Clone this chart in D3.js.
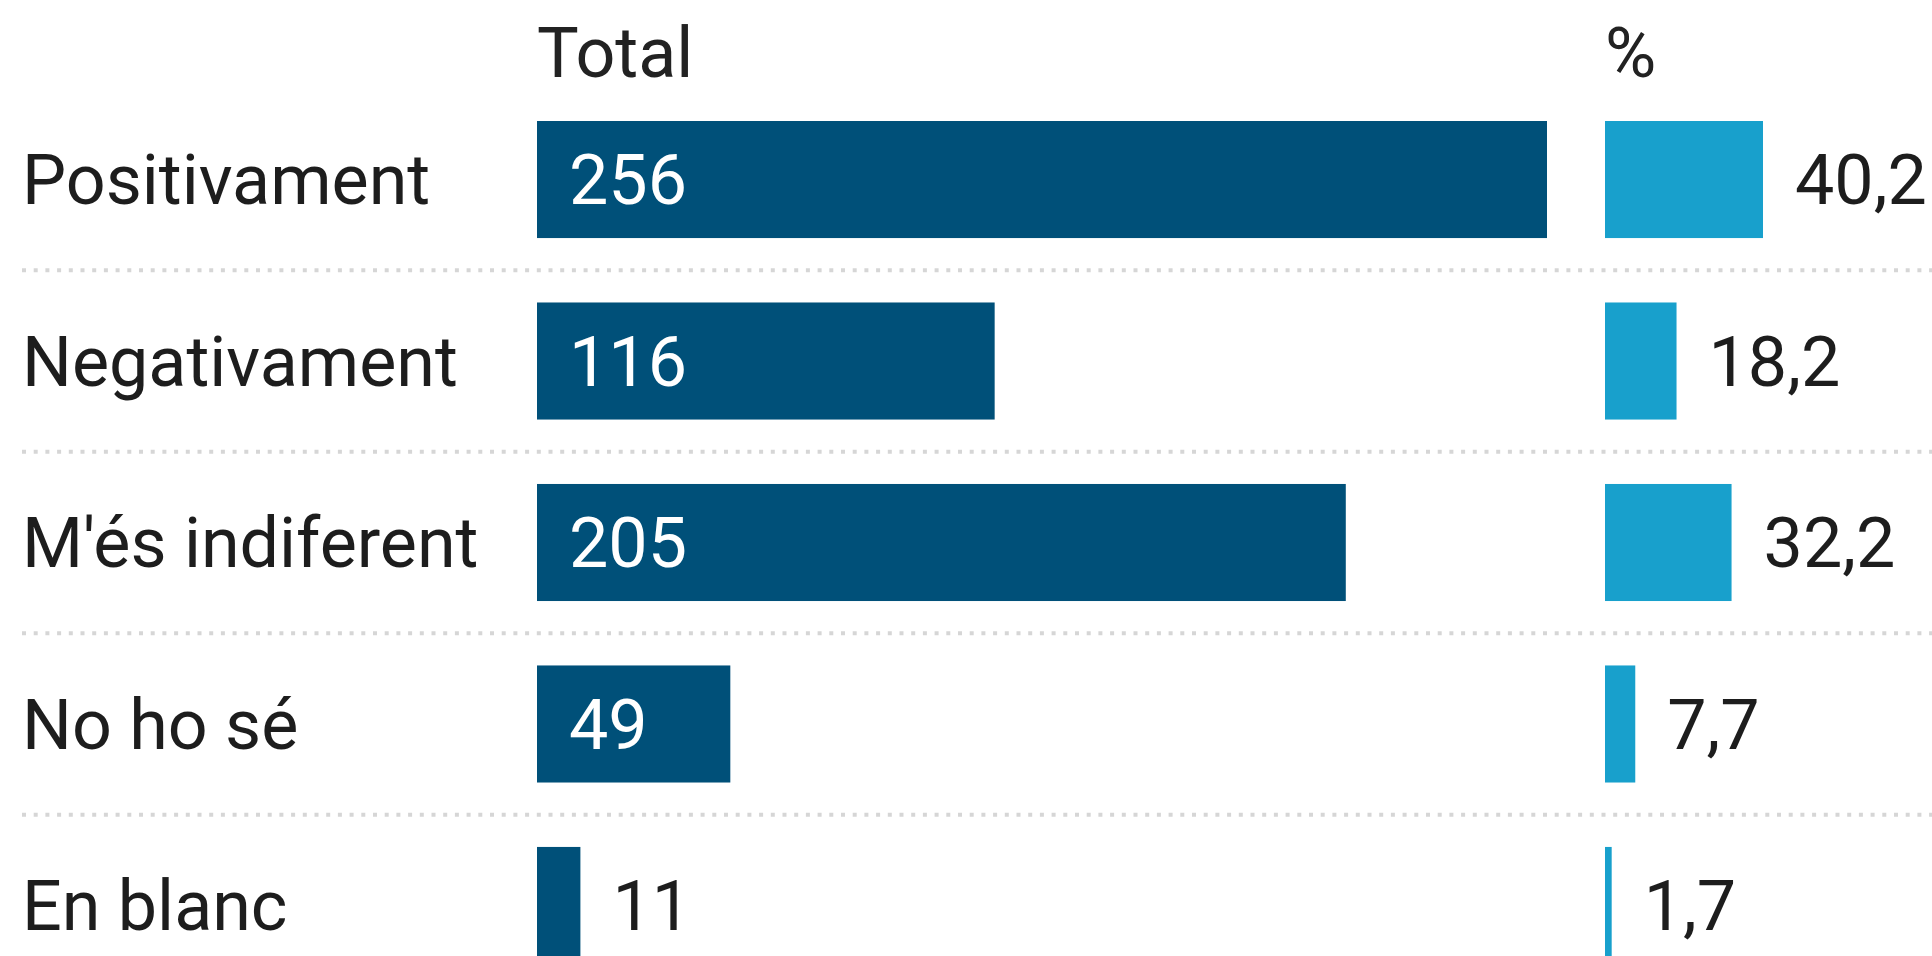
<!DOCTYPE html>
<html>
<head>
<meta charset="utf-8">
<script src="https://cdn.jsdelivr.net/npm/d3@7"></script>
<style>
  html, body { margin: 0; padding: 0; background: #fff; }
  svg { display: block; }
  text { font-family: Roboto, sans-serif; }
</style>
</head>
<body>
<div id="chart"></div>
<script>
var categories = ["Positivament", "Negativament", "M'és indiferent", "No ho sé", "En blanc"];
var totals = [256, 116, 205, 49, 11];
var percents = [40.2, 18.2, 32.2, 7.7, 1.7];
var headers = ["Total", "%"];

var width = 1932,
    height = 956,
    fontSize = 70;

var rows = categories.map(function(c, i) {
  return {name: c, total: totals[i], pct: percents[i]};
});

var svg = d3.select("#chart").append("svg")
  .attr("width", width)
  .attr("height", height);

var y = d3.scaleBand()
  .domain(categories)
  .range([121, 964])
  .paddingInner(0.355)
  .paddingOuter(0);

var xTotal = d3.scaleLinear()
  .domain([0, d3.max(totals)])
  .range([537, 1547]);

var xPct = d3.scaleLinear()
  .domain([0, d3.max(percents)])
  .range([1605, 1763]);

var fmtPct = function(v) { return d3.format(".1f")(v).replace(".", ","); };

// column headers
svg.append("text")
  .attr("x", xTotal(0))
  .attr("y", 77)
  .style("font-size", fontSize + "px")
  .style("fill", "#222")
  .text(headers[0]);

svg.append("text")
  .attr("x", xPct(0))
  .attr("y", 77)
  .style("font-size", fontSize + "px")
  .style("fill", "#222")
  .text(headers[1]);

// dotted separators between rows
var gap = y.step() - y.bandwidth();
svg.selectAll(".sep")
  .data(categories.slice(0, -1))
  .enter().append("line")
  .attr("class", "sep")
  .attr("x1", 22)
  .attr("x2", width)
  .attr("y1", function(d) { return y(d) + y.bandwidth() + gap / 2; })
  .attr("y2", function(d) { return y(d) + y.bandwidth() + gap / 2; })
  .style("stroke", "#d6d6d6")
  .style("stroke-width", 4)
  .style("stroke-dasharray", "4,7.7");

var g = svg.selectAll(".row")
  .data(rows)
  .enter().append("g")
  .attr("class", "row")
  .attr("transform", function(d) { return "translate(0," + y(d.name) + ")"; });

var mid = y.bandwidth() / 2;

// category labels
g.append("text")
  .attr("x", 22)
  .attr("y", mid)
  .attr("dy", "0.355em")
  .style("font-size", fontSize + "px")
  .style("fill", "#1d1d1d")
  .text(function(d) { return d.name; });

// total bars
g.append("rect")
  .attr("x", xTotal(0))
  .attr("width", function(d) { return xTotal(d.total) - xTotal(0); })
  .attr("height", y.bandwidth())
  .style("fill", "#005079");

g.append("text")
  .attr("x", function(d) {
    var w = xTotal(d.total) - xTotal(0);
    return w > 150 ? xTotal(0) + 32 : xTotal(d.total) + 32;
  })
  .attr("y", mid)
  .attr("dy", "0.355em")
  .style("font-size", fontSize + "px")
  .style("fill", function(d) {
    return (xTotal(d.total) - xTotal(0)) > 150 ? "#fff" : "#1d1d1d";
  })
  .text(function(d) { return d.total; });

// percent bars
g.append("rect")
  .attr("x", xPct(0))
  .attr("width", function(d) { return xPct(d.pct) - xPct(0); })
  .attr("height", y.bandwidth())
  .style("fill", "#18a0cc");

g.append("text")
  .attr("x", function(d) { return xPct(d.pct) + 32; })
  .attr("y", mid)
  .attr("dy", "0.355em")
  .style("font-size", fontSize + "px")
  .style("fill", "#1d1d1d")
  .text(function(d) { return fmtPct(d.pct); });
</script>
</body>
</html>
